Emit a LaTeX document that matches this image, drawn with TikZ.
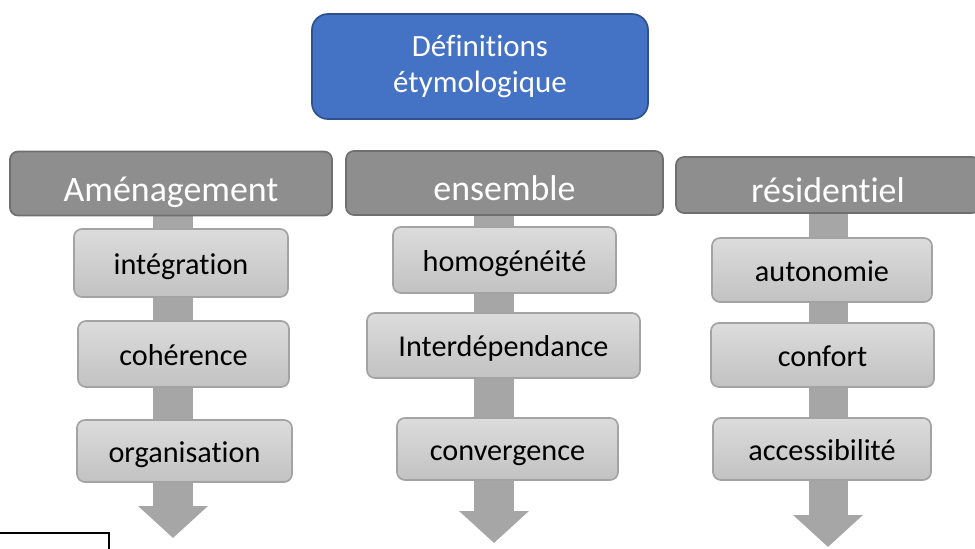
\documentclass[tikz,border=0pt]{standalone}
\usepackage{fontspec}
\setmainfont[Ligatures={NoCommon}]{Carlito}
\usepackage{tikz}
\usepackage{xcolor}
\usetikzlibrary{arrows.meta, positioning, backgrounds}
\definecolor{TitleBlue}{HTML}{4472C4}
\definecolor{TitleBorder}{HTML}{2F528F}
\definecolor{HeadGray}{HTML}{8E8E8E}
\definecolor{HeadBorder}{HTML}{6F6F6F}
\definecolor{ItemTop}{HTML}{DCDCDC}
\definecolor{ItemBottom}{HTML}{C2C2C2}
\definecolor{ItemBorder}{HTML}{A3A3A3}
\definecolor{FlowGray}{HTML}{A6A6A6}
\tikzset{
    % Box styles
    titlebox/.style={
        rectangle,
        rounded corners=0.4cm,
        draw=TitleBorder,
        fill=TitleBlue,
        line width=1.2pt,
        minimum width=8.4cm,
        minimum height=2.625cm,
        align=center,
        text=white,
        font=\fontsize{22}{26}\selectfont
    },
    headbox/.style={
        rectangle,
        rounded corners=0.2cm,
        draw=HeadBorder,
        fill=HeadGray,
        line width=1.2pt,
        minimum height=1.6cm,
        align=center,
        text=white,
        text height=27pt,
        text depth=2pt,
        font=\fontsize{25.5}{28}\selectfont
    },
    itembox/.style={
        rectangle,
        rounded corners=0.2cm,
        draw=ItemBorder,
        top color=ItemTop,
        bottom color=ItemBottom,
        line width=1.2pt,
        minimum height=1.6cm,
        align=center,
        text=black,
        text height=18pt,
        text depth=2pt,
        font=\fontsize{21.5}{24}\selectfont
    },
    % Arrow style - wide block arrow
    flowarrow/.style={
        -{Triangle[width=1.7cm,length=0.8cm]},
        line width=0.975cm,
        draw=FlowGray
    }
}

\begin{document}
\begin{tikzpicture}[x=0.025cm, y=-0.025cm]
    \useasboundingbox (0,0) rectangle (975,548);

    % Title
    \node[titlebox] (titre) at (480,66.5) {Définitions\\étymologique};

    % Headers
    \node[headbox, minimum width=8.05cm] (amen) at (171,183.5) {Aménagement};
    \node[headbox, minimum width=7.925cm] (ens) at (504.5,183) {ensemble};
    \node[headbox, minimum width=7.6cm, minimum height=1.4cm] (resid) at (828,185) {résidentiel};

    % Column 1
    \node[itembox, minimum width=5.35cm, minimum height=1.7cm] (integ) at (181,263) {intégration};
    \node[itembox, minimum width=5.275cm, minimum height=1.65cm] (coher) at (183.5,354) {cohérence};
    \node[itembox, minimum width=5.375cm, minimum height=1.55cm] (organ) at (184.5,451) {organisation};

    % Column 2
    \node[itembox, minimum width=5.575cm, minimum height=1.65cm] (homog) at (504.5,260) {homogénéité};
    \node[itembox, minimum width=6.825cm, minimum height=1.625cm] (interd) at (503.5,345.5) {Interdépendance};
    \node[itembox, minimum width=5.525cm, minimum height=1.55cm] (conver) at (507.5,449) {convergence};

    % Column 3
    \node[itembox, minimum width=5.5cm] (auton) at (822,270) {autonomie};
    \node[itembox, minimum width=5.575cm] (confort) at (822.5,355) {confort};
    \node[itembox, minimum width=5.45cm, minimum height=1.55cm] (access) at (822,449) {accessibilité};

    % Arrow ends
    \coordinate (bout1) at (173,538);
    \coordinate (bout2) at (494,543);
    \coordinate (bout3) at (828,547);

    % Block arrows behind the boxes
    \begin{scope}[on background layer]
        \draw[flowarrow] (amen.south -| bout1) -- (bout1);
        \draw[flowarrow] (ens.south -| bout2) -- (bout2);
        \draw[flowarrow] (resid.south -| bout3) -- (bout3);
    \end{scope}

    % Frame cut by the lower edge
    \node[draw=black, line width=1.2pt, minimum width=2.95cm, minimum height=1.5cm, anchor=north east] (cadre) at (110,532) {};
\end{tikzpicture}
\end{document}
